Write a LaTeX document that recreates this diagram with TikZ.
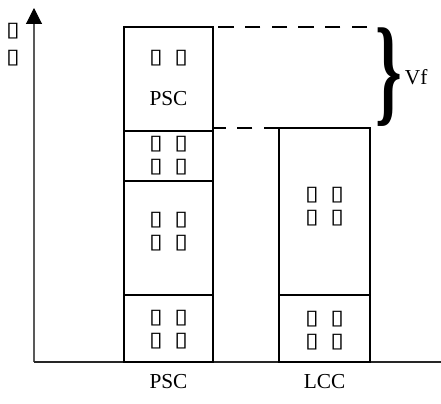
\documentclass[tikz,border=0pt]{standalone}
\usepackage{fontspec}
\usepackage{graphicx}
\setmainfont{Liberation Serif}
\newfontfamily\boxfont{DejaVu Sans}
\usetikzlibrary{arrows.meta}
\newcommand{\tofu}{\scalebox{1.2}[1]{\boxfont ▯}}
\newcommand{\tofupair}{\tofu\hspace{8.7pt}\tofu}

\begin{document}
\begin{tikzpicture}[x=0.75pt,y=0.75pt,>=Stealth,
  bar/.style={line width=1.2pt},
  gap/.style={dash pattern=on 11.5pt off 8.5pt,line width=0.9pt},
  tofubox/.style={font=\boxfont\fontsize{15.5}{17.25}\selectfont,align=center,inner sep=0pt},
  lbl/.style={font=\fontsize{16}{18}\selectfont,inner sep=0pt}]
  \useasboundingbox (0,0) rectangle (441,403);
  \coordinate (o) at (34,41);
  \coordinate (ytop) at (34,395);
  \coordinate (xend) at (441,41);
  \draw[-{Triangle[length=12pt,width=12pt,black]},black!65,line width=0.8pt] (o)--(ytop);
  \draw[black!85,line width=1pt] (o)--(xend);
  \node[tofubox] (ylabel) at (13,358) {\tofu\\[3pt]\tofu};

  \draw[bar] (124,41) rectangle (213,376);
  \draw[bar] (124,272)--(213,272);
  \draw[bar] (124,222)--(213,222);
  \draw[bar] (124,108)--(213,108);
  \draw[bar] (279,41) rectangle (370,275);
  \draw[bar] (279,108)--(370,108);

  \coordinate (psctop) at (213,376);
  \coordinate (lcctop) at (279,275);
  \draw[gap] (367,376)--(psctop);
  \draw[gap] (lcctop)--(213,275);

  \node[tofubox] (psc1) at (168.5,345) {\tofupair};
  \node[lbl] (pscname) at (168.5,304) {PSC};
  \node[tofubox] (psc2) at (168.5,247.5) {\tofupair\\\tofupair};
  \node[tofubox] (psc3) at (168.5,171.5) {\tofupair\\\tofupair};
  \node[tofubox] (psc4) at (168.5,73) {\tofupair\\\tofupair};
  \node[tofubox] (lcc1) at (324.5,196) {\tofupair\\\tofupair};
  \node[tofubox] (lcc2) at (324.5,72.5) {\tofupair\\\tofupair};

  \node[lbl] (pscx) at (168.5,21) {PSC};
  \node[lbl] (lccx) at (324.5,21) {LCC};

  \node[inner sep=0pt] (brace) at (389,326) {\resizebox*{20pt}{74pt}{\bfseries\}}};
  \node[lbl,anchor=west] (vf) at ([xshift=1.5pt]brace.east) {Vf};
\end{tikzpicture}
\end{document}
